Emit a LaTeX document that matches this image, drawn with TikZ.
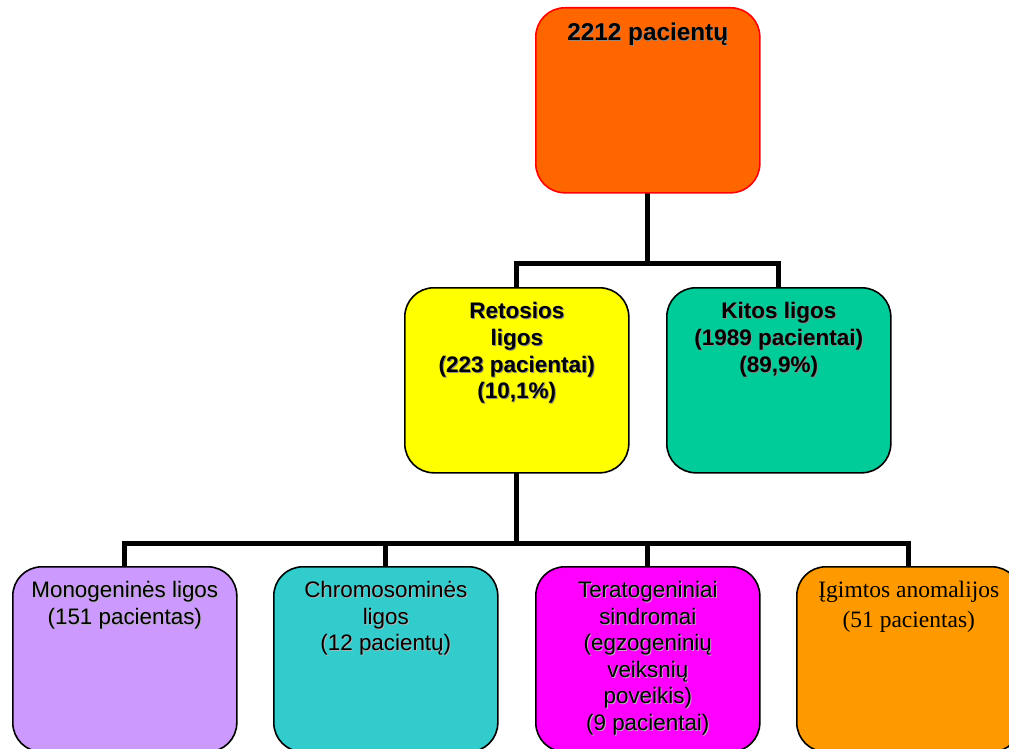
\documentclass[tikz,border=0pt]{standalone}
\usepackage{fontspec}
\setmainfont{Liberation Sans}
\newfontfamily\tms{Liberation Serif}
\usetikzlibrary{calc}
% text with a soft drop shadow, one line at a time
\newcommand\shd[2][black!45]{\leavevmode\rlap{\hspace{1pt}\raisebox{-1pt}{\textcolor{#1}{#2}}}#2}
% box content: fixed size, text centred near the top
\newcommand\boxtext[2][31pt]{\begin{minipage}[t][185pt][t]{224pt}\centering\rule{0pt}{#1}#2\end{minipage}}
\tikzset{
  card/.style={draw=black, line width=1.6pt, rounded corners=29pt, inner sep=0pt,
               anchor=north west, text=black},
  bigfont/.style={font=\fontsize{22.5}{26.7}\selectfont\bfseries},
  smallfont/.style={font=\fontsize{22.4}{26.5}\selectfont},
  link/.style={line width=5pt, draw=black}
}
\definecolor{cTop}{HTML}{FF6600}
\definecolor{cRet}{HTML}{FFFF00}
\definecolor{cKit}{HTML}{00CC99}
\definecolor{cMon}{HTML}{CC99FF}
\definecolor{cChr}{HTML}{33CCCC}
\definecolor{cTer}{HTML}{FF00FF}
\definecolor{cIgi}{HTML}{FF9900}
\begin{document}
\begin{tikzpicture}[x=1pt, y=-1pt]
\useasboundingbox (0,0) rectangle (1009,749);
\clip (0,0) rectangle (1009,749);
\fill[white] (0,0) rectangle (1009,749);

% junction points of the connector bars
\coordinate (j1) at (647,263);
\coordinate (j2) at (516,543);

% connectors (drawn first, boxes go on top)
\draw[link] (647,150) -- (j1);
\draw[link] (516,330) |- (j1) -| (778,330);
\draw[link] (516,430) -- (j2);
\draw[link] (124,600) |- (j2) -| (908,600);
\draw[link] (385,600) -- (385,543);
\draw[link] (647,600) -- (647,543);

% top level
\node[card, font=\fontsize{24.3}{28}\selectfont\bfseries, draw=red, fill=cTop] (top) at (535,7)
  {\boxtext[33pt]{\shd{2212 pacientų}}};

% second level
\node[card, bigfont, fill=cRet] (ret) at (404,287)
  {\boxtext{\shd{Retosios}\\ \shd{ligos}\\ \shd{(223 pacientai)}\\ \shd{(10,1\%)}}};
\node[card, bigfont, fill=cKit] (kit) at (666,287)
  {\boxtext{\shd{Kitos ligos}\\ \shd{(1989 pacientai)}\\ \shd{(89,9\%)}}};

% third level
\node[card, smallfont, fill=cMon] (mon) at (12,566)
  {\boxtext{\shd[black!30]{Monogeninės ligos}\\ \shd[black!30]{(151 pacientas)}}};
\node[card, smallfont, fill=cChr] (chr) at (273,566)
  {\boxtext{\shd[black!30]{Chromosominės}\\ \shd[black!30]{ligos}\\ \shd[black!30]{(12 pacientų)}}};
\node[card, smallfont, fill=cTer] (ter) at (535,566)
  {\boxtext{\shd[black!30]{Teratogeniniai}\\ \shd[black!30]{sindromai}\\ \shd[black!30]{(egzogeninių}\\ \shd[black!30]{veiksnių}\\ \shd[black!30]{poveikis)}\\ \shd[black!30]{(9 pacientai)}}};
\node[card, font=\tms\fontsize{23.5}{29.5}\selectfont, fill=cIgi] (igi) at (796,566)
  {\boxtext{Įgimtos anomalijos\\ (51 pacientas)}};
\end{tikzpicture}
\end{document}
